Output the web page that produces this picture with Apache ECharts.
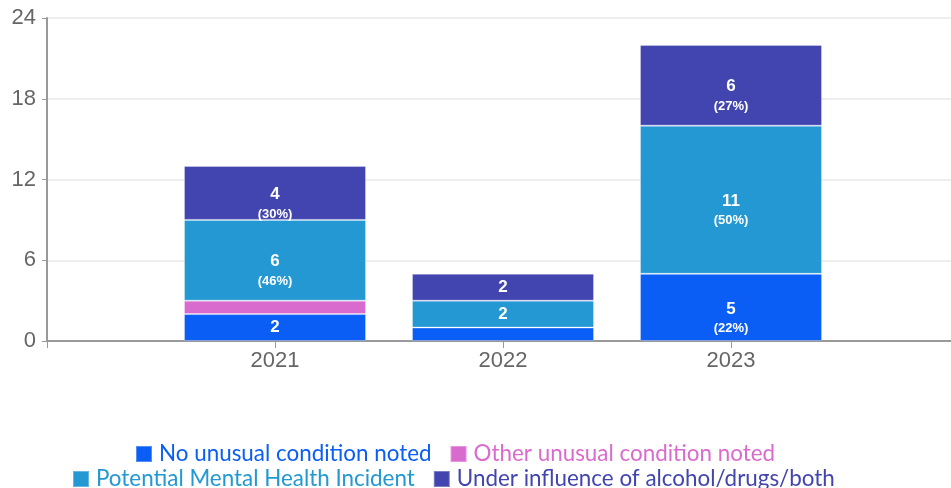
<!DOCTYPE html>
<html>
<head>
<meta charset="utf-8">
<script src="https://cdn.jsdelivr.net/npm/echarts@6/dist/echarts.min.js"></script>
<style>
  html, body { margin: 0; padding: 0; background: #fff; }
  #main { width: 951px; height: 488px; }
</style>
</head>
<body>
<div id="main"></div>
<script>
// data
var years = ['2021', '2022', '2023'];
var seriesNames = [
  'No unusual condition noted',
  'Other unusual condition noted',
  'Potential Mental Health Incident',
  'Under influence of alcohol/drugs/both'
];
var noUnusual = [2, 1, 5];
var otherUnusual = [1, 0, 0];
var mentalHealth = [6, 2, 11];
var underInfluence = [4, 2, 6];
var yTicks = [0, 6, 12, 18, 24];

var colors = ['#0a5ef5', '#da6bce', '#2398d2', '#4245af'];
var allValues = [noUnusual, otherUnusual, mentalHealth, underInfluence];

// totals per year, for percentages
var totals = years.map(function (y, i) {
  return allValues.reduce(function (s, arr) { return s + arr[i]; }, 0);
});

// pad the category axis so the years sit where they do in the picture
var cats = [''].concat(years).concat(['']);

function buildData(arr) {
  var out = ['-'];
  arr.forEach(function (v, i) {
    var item = { value: v, total: totals[i] };
    if (v >= 4) item.label = { offset: [0, 10] };
    out.push(item);
  });
  out.push('-');
  return out;
}

var series = allValues.map(function (arr, k) {
  return {
    name: seriesNames[k],
    type: 'bar',
    stack: 'all',
    barWidth: 182,
    data: buildData(arr),
    itemStyle: {
      color: colors[k],
      borderColor: 'rgba(255,255,255,0.3)',
      borderWidth: 1
    },
    label: {
      show: true,
      position: 'inside',
      fontFamily: 'Liberation Sans, Arial, sans-serif',
      formatter: function (p) {
        var v = p.data.value;
        if (v < 2) return '';
        if (v < 4) return '{n|' + v + '}';
        var pct = Math.floor(v / p.data.total * 100);
        return '{n|' + v + '}\n{p|(' + pct + '%)}';
      },
      rich: {
        n: { fontSize: 17, fontWeight: 'bold', color: '#fff', lineHeight: 22, fontFamily: 'Liberation Sans, Arial, sans-serif' },
        p: { fontSize: 13, fontWeight: 'bold', color: '#fff', lineHeight: 17, fontFamily: 'Liberation Sans, Arial, sans-serif' }
      }
    }
  };
});

function legendItems(from, to) {
  return seriesNames.slice(from, to).map(function (n, i) {
    return { name: n, textStyle: { color: colors[from + i] } };
  });
}

var legendBase = {
  icon: 'rect',
  itemWidth: 16,
  itemHeight: 16,
  itemGap: 18,
  textStyle: { fontFamily: 'Lato, sans-serif', fontSize: 22.4, padding: [0, 0, 0, 2] }
};

var chart = echarts.init(document.getElementById('main'));
chart.setOption({
  animation: false,
  grid: { left: 47, width: 912, top: 18, bottom: 147, containLabel: false, outerBoundsMode: 'none' },
  legend: [
    Object.assign({}, legendBase, { left: 130, top: 438, data: legendItems(0, 2) }),
    Object.assign({}, legendBase, { left: 67, top: 463, data: legendItems(2, 4) })
  ],
  xAxis: {
    type: 'category',
    data: cats,
    boundaryGap: false,
    axisLine: { lineStyle: { color: '#999', width: 2 } },
    axisTick: { show: true, length: 7, lineStyle: { color: '#999' } },
    axisLabel: { color: '#666', fontSize: 22, margin: 9, fontFamily: 'Liberation Sans, Arial, sans-serif' },
    splitLine: { show: false }
  },
  yAxis: {
    type: 'value',
    min: yTicks[0],
    max: yTicks[yTicks.length - 1],
    interval: yTicks[1] - yTicks[0],
    axisLine: { show: true, lineStyle: { color: '#999', width: 2 } },
    axisTick: { show: true, length: 5, lineStyle: { color: '#999' } },
    axisLabel: { color: '#666', fontSize: 22, margin: 11, fontFamily: 'Liberation Sans, Arial, sans-serif' },
    splitLine: { lineStyle: { color: '#eeeeee', width: 2 } }
  },
  series: series
});
</script>
</body>
</html>
